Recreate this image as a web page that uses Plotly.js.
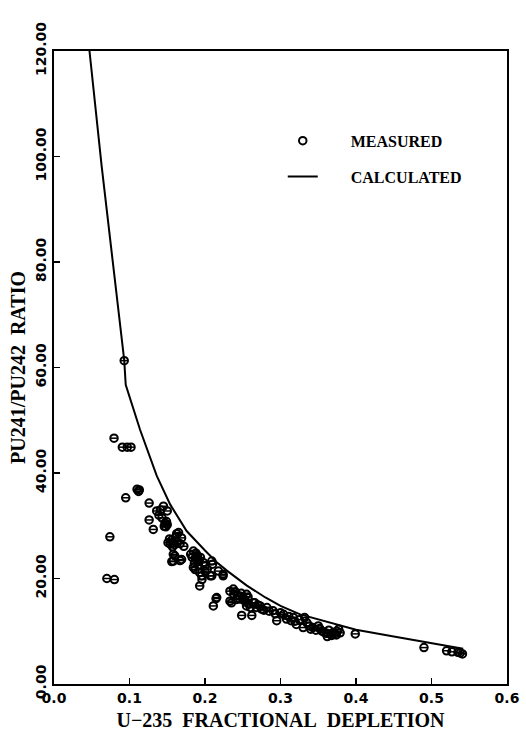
<!DOCTYPE html>
<html><head><meta charset="utf-8">
<script src="https://cdn.plot.ly/plotly-3.0.1.min.js"></script>
<style>html,body{margin:0;padding:0;background:#fff}</style>
</head><body><div id="chart" style="width:526px;height:731px"></div>
<script>
// Measured points (U-235 fractional depletion, Pu241/Pu242 ratio)
const measuredDepletion = [
  0.093, 0.0795, 0.0905, 0.097, 0.102, 0.110, 0.112, 0.113, 0.095, 0.126, 0.074, 0.070, 0.080,
  0.136, 0.139, 0.141, 0.145, 0.150, 0.143, 0.126, 0.147, 0.148, 0.150, 0.1315, 0.149, 0.146,
  0.1625, 0.165, 0.151, 0.154, 0.156, 0.158, 0.160, 0.163, 0.167, 0.169, 0.172, 0.153, 0.157, 0.161,
  0.158, 0.160, 0.156, 0.158, 0.167, 0.169,
  0.1846, 0.181, 0.183, 0.187, 0.189, 0.192, 0.190, 0.186, 0.1846, 0.187, 0.193, 0.191, 0.194, 0.188,
  0.198, 0.200, 0.200, 0.203, 0.209, 0.210, 0.196, 0.1956, 0.207, 0.209, 0.2177, 0.224, 0.224,
  0.193, 0.211, 0.2146, 0.2155,
  0.233, 0.2375, 0.240, 0.238, 0.233, 0.235, 0.243, 0.246, 0.246, 0.250, 0.252, 0.255, 0.257,
  0.241, 0.248, 0.253,
  0.2486, 0.262, 0.255, 0.258, 0.260, 0.264, 0.266, 0.268, 0.273, 0.275, 0.270, 0.278,
  0.282, 0.285, 0.290, 0.293, 0.295,
  0.300, 0.304, 0.308, 0.311, 0.314, 0.317, 0.321, 0.319, 0.325,
  0.330, 0.332, 0.335, 0.338, 0.340, 0.343, 0.347, 0.350, 0.352, 0.355,
  0.358, 0.361, 0.364, 0.366, 0.370, 0.372, 0.375, 0.377, 0.379, 0.368, 0.374, 0.362,
  0.399, 0.490, 0.520, 0.527, 0.535, 0.538, 0.541
];
const measuredRatio = [
  61.3, 46.6, 44.9, 44.9, 44.9, 36.9, 36.5, 36.8, 35.3, 34.3, 27.9, 20.0, 19.8,
  32.8, 32.0, 33.0, 33.7, 32.8, 31.5, 31.1, 30.5, 29.8, 30.2, 29.3, 30.8, 29.9,
  28.5, 28.7, 26.8, 26.5, 27.3, 26.8, 26.4, 27.0, 26.6, 27.7, 26.1, 27.5, 26.0, 27.8,
  24.6, 24.3, 23.2, 23.3, 23.4, 23.6,
  25.2, 24.6, 24.0, 23.8, 23.6, 23.2, 24.3, 22.9, 22.1, 21.7, 21.1, 22.5, 24.0, 24.8,
  23.0, 22.4, 21.4, 21.8, 23.3, 22.7, 19.8, 20.5, 20.5, 20.5, 21.4, 20.5, 20.8,
  18.6, 14.8, 16.2, 16.4,
  17.6, 18.0, 17.5, 17.0, 15.7, 15.4, 16.8, 16.1, 16.7, 16.3, 15.8, 17.0, 16.5,
  16.0, 17.2, 16.0,
  13.0, 13.0, 14.8, 15.2, 14.5, 15.4, 15.4, 14.5, 14.8, 14.2, 15.0, 14.0,
  14.5, 13.8, 13.9, 13.3, 12.0,
  13.5, 13.2, 12.3, 12.8, 12.0, 12.6, 11.3, 11.9, 12.2,
  10.7, 12.6, 11.6, 11.0, 10.4, 10.7, 10.2, 11.0, 10.5, 10.0,
  9.8, 9.6, 10.2, 9.4, 9.8, 9.5, 10.0, 10.4, 9.7, 9.2, 9.3, 9.0,
  9.5, 6.9, 6.3, 6.1, 6.0, 5.9, 5.7
];
// Calculated curve
const calcDepletion = [0.047, 0.063, 0.093, 0.095, 0.114, 0.136, 0.154, 0.1757, 0.2, 0.2155, 0.229, 0.255, 0.28, 0.3, 0.326, 0.37, 0.4, 0.45, 0.494, 0.542];
const calcRatio     = [120, 98.3, 61.4, 56.7, 48.2, 39.5, 34.0, 29.0, 25.3, 23.1, 21.5, 18.7, 16.4, 14.8, 13.2, 11.4, 10.3, 9.0, 7.9, 6.7];

const xTickVals = [0, 0.1, 0.2, 0.3, 0.4, 0.5, 0.6];
const yTickVals = [0, 20, 40, 60, 80, 100, 120];
const legendPad = '\u00a0\u00a0\u00a0\u00a0\u00a0\u00a0\u00a0';
const seriesNames = ['MEASURED', 'CALCULATED'];
const xTitle = 'U\u2212235\u00a0\u00a0FRACTIONAL\u00a0\u00a0DEPLETION';
const yTitle = 'PU241/PU242\u00a0\u00a0RATIO';

const serif = {family: 'Liberation Serif', size: 20, color: '#000', weight: 'bold'};
const tickFont = {family: 'DejaVu Sans', size: 14, color: '#000', weight: 'bold'};

const data = [
  {x: calcDepletion, y: calcRatio, type: 'scatter', mode: 'lines', name: legendPad + seriesNames[1],
   line: {color: '#000', width: 2}, legendgroup: 'b', legendrank: 2, cliponaxis: true},
  {x: measuredDepletion, y: measuredRatio, type: 'scatter', mode: 'markers', name: legendPad + seriesNames[0],
   marker: {symbol: 'circle-open', size: 7.5, color: '#000', line: {color: '#000', width: 2}},
   legendgroup: 'a', legendrank: 1},
  {x: measuredDepletion, y: measuredRatio, type: 'scatter', mode: 'markers', showlegend: false,
   marker: {symbol: 'line-ew-open', size: 5, color: '#000', line: {color: '#000', width: 1.5}},
   legendgroup: 'a', hoverinfo: 'skip'}
];

const layout = {
  width: 526, height: 731,
  margin: {l: 54, r: 19, t: 51, b: 47, pad: 0},
  paper_bgcolor: '#fff', plot_bgcolor: '#fff',
  showlegend: true,
  legend: {x: 0.505, xanchor: 'left', y: 0.885, yanchor: 'top',
    font: {family: 'Liberation Serif', size: 16, color: '#000', weight: 'bold'},
    bgcolor: 'rgba(0,0,0,0)', borderwidth: 0, traceorder: 'grouped', tracegroupgap: 12, itemwidth: 30},
  xaxis: {range: [0, 0.6], tickvals: xTickVals, tickformat: '.1f', ticks: 'inside', ticklen: 6, tickwidth: 1.5,
    tickcolor: '#000', showline: true, linecolor: '#000', linewidth: 2, mirror: true,
    showgrid: false, zeroline: false, tickfont: tickFont,
    title: {text: xTitle, font: serif, standoff: 8}},
  yaxis: {range: [0, 120], tickvals: yTickVals, tickformat: '.2f', ticks: 'inside', ticklen: 6, tickwidth: 1.5,
    tickcolor: '#000', showline: true, linecolor: '#000', linewidth: 2, mirror: true,
    showgrid: false, zeroline: false, tickfont: tickFont, tickangle: -90,
    title: {text: yTitle, font: serif, standoff: 2}}
};

Plotly.newPlot('chart', data, layout, {staticPlot: true, displayModeBar: false});
</script>
</body></html>
